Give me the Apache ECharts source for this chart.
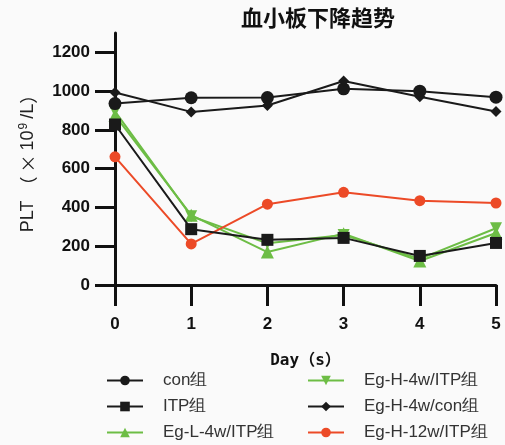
<!DOCTYPE html>
<html>
<head>
<meta charset="utf-8">
<script src="https://cdn.jsdelivr.net/npm/echarts@6/dist/echarts.min.js"></script>
<style>
  html, body { margin: 0; padding: 0; background: #fafafa; }
  #chart { width: 505px; height: 445px; }
</style>
</head>
<body>
<div id="chart"></div>
<script>
var days = [0, 1, 2, 3, 4, 5];
var yTicks = [0, 200, 400, 600, 800, 1000, 1200];

var conVals = [936, 966, 967, 1012, 1000, 969];
var itpVals = [828, 288, 233, 243, 150, 217];
var egL4wItpVals = [875, 360, 170, 265, 124, 268];
var egH4wItpVals = [896, 355, 215, 258, 135, 293];
var egH4wConVals = [993, 893, 926, 1052, 971, 895];
var egH12wItpVals = [661, 212, 417, 478, 435, 423];

var BLACK = '#1a1a1a';
var GREEN = '#6dbd45';
var RED = '#ec4a27';

function pairs(vals) {
    return days.map(function (d, i) { return [d, vals[i]]; });
}

function line(name, vals, color, symbol, size, z) {
    return {
        name: name,
        type: 'line',
        data: pairs(vals),
        symbol: symbol,
        symbolSize: size,
        z: z,
        lineStyle: { color: color, width: 2 },
        itemStyle: { color: color, borderWidth: 0 }
    };
}

var chart = echarts.init(document.getElementById('chart'));

var legendText = {
    fontFamily: 'Liberation Sans',
    fontSize: 17,
    lineHeight: 21,
    color: '#333',
    padding: [0, 0, 0, 15]
};

chart.setOption({
    backgroundColor: '#fafafa',
    animation: false,
    title: {
        text: '血小板下降趋势',
        left: 313,
        top: 2,
        textAlign: 'center',
        textStyle: { fontFamily: 'Noto Sans CJK SC', fontSize: 22, fontWeight: 'bold', color: '#111' }
    },
    legend: [{
        orient: 'vertical',
        left: 106,
        top: 370,
        height: 80,
        itemWidth: 36,
        itemHeight: 12,
        itemGap: 5,
        padding: 0,
        data: ['con组', 'ITP组', 'Eg-L-4w/ITP组'],
        textStyle: legendText
    }, {
        orient: 'vertical',
        left: 307,
        top: 370,
        height: 80,
        itemWidth: 36,
        itemHeight: 12,
        itemGap: 5,
        padding: 0,
        data: ['Eg-H-4w/ITP组', 'Eg-H-4w/con组', 'Eg-H-12w/ITP组'],
        textStyle: legendText
    }],
    grid: { left: 115, right: 9, top: 33, bottom: 160, containLabel: false, outerBoundsMode: 'none' },
    xAxis: {
        type: 'value',
        min: 0,
        max: 5,
        interval: 1,
        name: 'Day（s）',
        nameLocation: 'middle',
        nameGap: 68,
        nameTextStyle: { fontFamily: 'DejaVu Sans Mono, Noto Sans CJK SC', fontSize: 16, fontWeight: 'bold', color: '#111' },
        splitLine: { show: false },
        axisLine: { lineStyle: { color: '#111', width: 3 } },
        axisTick: { length: 21, lineStyle: { color: '#111', width: 3 } },
        axisLabel: {
            margin: 31,
            fontFamily: 'Liberation Sans',
            fontSize: 17,
            fontWeight: 'bold',
            color: '#111'
        }
    },
    yAxis: {
        type: 'value',
        min: 0,
        max: 1300,
        name: '{a|PLT}{p|（}{x|×}{a|10}{s|9}{l|/L}{c|）}',
        nameLocation: 'middle',
        nameGap: 76,
        nameRotate: 90,
        nameTextStyle: {
            rich: {
                a: { fontFamily: 'Liberation Sans', fontSize: 18, color: '#222' },
                p: { fontFamily: 'Noto Sans CJK SC', fontSize: 18, color: '#222', padding: [0, 0, 0, 6] },
                x: { fontFamily: 'Noto Sans CJK SC', fontSize: 18, color: '#222', padding: [0, 4, 0, 4] },
                l: { fontFamily: 'Liberation Sans', fontSize: 18, color: '#222', padding: [0, 0, 0, 2] },
                c: { fontFamily: 'Noto Sans CJK SC', fontSize: 18, color: '#222' },
                s: { fontFamily: 'Liberation Sans', fontSize: 12, color: '#222', verticalAlign: 'top', padding: [0, 2, 9, 1] }
            }
        },
        splitLine: { show: false },
        axisLine: { show: true, lineStyle: { color: '#111', width: 3 } },
        axisTick: { show: true, length: 20, customValues: yTicks, lineStyle: { color: '#111', width: 3 } },
        axisLabel: {
            customValues: yTicks,
            formatter: function (v) { return String(v); },
            margin: 25,
            fontFamily: 'Liberation Sans',
            fontSize: 17,
            fontWeight: 'bold',
            color: '#111'
        }
    },
    series: [
        line('con组', conVals, BLACK, 'circle', 13, 5),
        line('ITP组', itpVals, BLACK, 'rect', 12, 6),
        line('Eg-L-4w/ITP组', egL4wItpVals, GREEN, 'triangle', 13, 3),
        line('Eg-H-4w/ITP组', egH4wItpVals, GREEN, 'path://M0,0 L10,0 L5,9 Z', 12, 3),
        line('Eg-H-4w/con组', egH4wConVals, BLACK, 'diamond', 11, 5),
        line('Eg-H-12w/ITP组', egH12wItpVals, RED, 'circle', 11, 4)
    ]
});
</script>
</body>
</html>
